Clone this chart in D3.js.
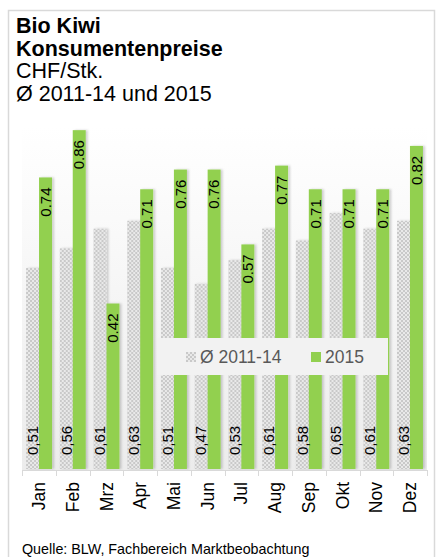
<!DOCTYPE html>
<html>
<head>
<meta charset="utf-8">
<script src="https://cdn.jsdelivr.net/npm/d3@7"></script>
<style>
  body { margin: 0; background: #fff; }
  svg { display: block; font-family: "Liberation Sans", Arial, sans-serif; }
</style>
</head>
<body>
<svg width="439" height="557"></svg>
<script>
// chart data
var months = ["Jan", "Feb", "Mrz", "Apr", "Mai", "Jun", "Jul", "Aug", "Sep", "Okt", "Nov", "Dez"];
var seriesNames = ["Ø 2011-14", "2015"];
var avg1114 = [0.51, 0.56, 0.61, 0.63, 0.51, 0.47, 0.53, 0.61, 0.58, 0.65, 0.61, 0.63];
var y2015 = [0.74, 0.86, 0.42, 0.71, 0.76, 0.76, 0.57, 0.77, 0.71, 0.71, 0.71, 0.82];
var titleLines = ["Bio Kiwi", "Konsumentenpreise", "CHF/Stk.", "Ø 2011-14 und 2015"];
var source = "Quelle: BLW, Fachbereich Marktbeobachtung";

var svg = d3.select("svg");
var defs = svg.append("defs");

// grey checker pattern for the average bars
var pat = defs.append("pattern")
    .attr("id", "checker")
    .attr("patternUnits", "userSpaceOnUse")
    .attr("width", 4).attr("height", 4);
pat.append("rect").attr("width", 4).attr("height", 4).attr("fill", "#e9e9e9");
pat.append("rect").attr("width", 2).attr("height", 2).attr("fill", "#c9c9c9");
pat.append("rect").attr("x", 2).attr("y", 2).attr("width", 2).attr("height", 2).attr("fill", "#c9c9c9");

// plot background gradient
var grad = defs.append("linearGradient")
    .attr("id", "bg").attr("x1", 0).attr("y1", 0).attr("x2", 0).attr("y2", 1);
grad.append("stop").attr("offset", "0%").attr("stop-color", "#ffffff");
grad.append("stop").attr("offset", "100%").attr("stop-color", "#ececec");

// soft shadow for bars
var flt = defs.append("filter").attr("id", "shadow")
    .attr("x", "-20%").attr("y", "-5%").attr("width", "160%").attr("height", "110%");
flt.append("feDropShadow")
    .attr("dx", 2).attr("dy", 0).attr("stdDeviation", 1)
    .attr("flood-color", "#000").attr("flood-opacity", 0.18);

// outer frame
svg.append("rect")
    .attr("x", 8.5).attr("y", 10.5)
    .attr("width", 426).attr("height", 560)
    .attr("fill", "#fff")
    .attr("stroke", "#d9d9d9").attr("stroke-width", 1.5);

// title
svg.append("g").selectAll("text")
    .data(titleLines)
    .join("text")
        .attr("x", 16)
        .attr("y", function(d, i) { return 33 + i * 22.5; })
        .attr("font-size", "21.5px")
        .attr("font-weight", function(d, i) { return i < 2 ? "bold" : "normal"; })
        .attr("fill", "#000")
        .text(function(d) { return d; });

var plot = { left: 22, right: 427, top: 127, bottom: 470 };

svg.append("rect")
    .attr("x", plot.left).attr("y", plot.top)
    .attr("width", plot.right - plot.left).attr("height", plot.bottom - plot.top)
    .attr("fill", "url(#bg)");

var x0 = d3.scaleBand()
    .domain(months)
    .range([plot.left, plot.right])
    .paddingInner(0.23)
    .paddingOuter(0.12);

var x1 = d3.scaleBand()
    .domain(seriesNames)
    .range([0, x0.bandwidth()]);

var y = d3.scaleLinear()
    .domain([0, 0.9])
    .range([469, 469 - 0.9 * 394]);

var rows = months.map(function(m, i) {
    return { month: m, values: [
        { key: seriesNames[0], value: avg1114[i] },
        { key: seriesNames[1], value: y2015[i] }
    ]};
});

var fills = { "Ø 2011-14": "url(#checker)", "2015": "#92d050" };

var groups = svg.append("g").selectAll("g")
    .data(rows)
    .join("g")
        .attr("transform", function(d) { return "translate(" + x0(d.month) + ",0)"; });

groups.selectAll("rect")
    .data(function(d) { return d.values; })
    .join("rect")
        .attr("x", function(d) { return x1(d.key); })
        .attr("y", function(d) { return y(d.value); })
        .attr("width", x1.bandwidth())
        .attr("height", function(d) { return y(0) - y(d.value); })
        .attr("fill", function(d) { return fills[d.key]; })
        .attr("filter", "url(#shadow)");

// value labels, rotated
groups.selectAll("text")
    .data(function(d) { return d.values; })
    .join("text")
        .attr("transform", function(d) {
            var cx = x1(d.key) + x1.bandwidth() / 2;
            var ty = d.key === "2015" ? y(d.value) + 10 : y(0) - 14;
            return "translate(" + cx + "," + ty + ") rotate(-90)";
        })
        .attr("dy", "0.35em")
        .attr("text-anchor", function(d) { return d.key === "2015" ? "end" : "start"; })
        .attr("font-size", "15px")
        .attr("fill", "#000")
        .text(function(d) {
            var s = d3.format(".2f")(d.value);
            return d.key === "2015" ? s : s.replace(".", ",");
        });

// category axis
svg.append("line")
    .attr("x1", plot.left).attr("x2", plot.right)
    .attr("y1", plot.bottom + 0.5).attr("y2", plot.bottom + 0.5)
    .attr("stroke", "#d9d9d9");

svg.append("g").selectAll("line")
    .data(d3.range(months.length + 1))
    .join("line")
        .attr("x1", function(i) { return Math.round(plot.left + i * (plot.right - plot.left) / months.length) + 0.5; })
        .attr("x2", function(i) { return Math.round(plot.left + i * (plot.right - plot.left) / months.length) + 0.5; })
        .attr("y1", plot.bottom).attr("y2", plot.bottom + 6)
        .attr("stroke", "#d9d9d9");

svg.append("g").selectAll("text")
    .data(months)
    .join("text")
        .attr("transform", function(d) {
            return "translate(" + (x0(d) + x0.bandwidth() / 2) + ",482) rotate(-90)";
        })
        .attr("dy", "0.35em")
        .attr("text-anchor", "end")
        .attr("font-size", "17.5px")
        .attr("fill", "#000")
        .text(function(d) { return d; });

// legend
var legend = svg.append("g");
legend.append("rect")
    .attr("x", 157).attr("y", 338)
    .attr("width", 231).attr("height", 37)
    .attr("fill", "#f2f2f2");

var legendX = [186, 311];
var items = legend.selectAll("g")
    .data(seriesNames)
    .join("g")
        .attr("transform", function(d, i) { return "translate(" + legendX[i] + ",352)"; });
items.append("rect")
    .attr("width", 10).attr("height", 10)
    .attr("fill", function(d) { return fills[d]; });
items.append("text")
    .attr("x", 14).attr("y", 5)
    .attr("dy", "0.35em")
    .attr("font-size", "17.5px")
    .attr("fill", "#595959")
    .text(function(d) { return d; });

// source note
svg.append("text")
    .attr("x", 22).attr("y", 554)
    .attr("font-size", "14.3px")
    .attr("fill", "#000")
    .text(source);
</script>
</body>
</html>
